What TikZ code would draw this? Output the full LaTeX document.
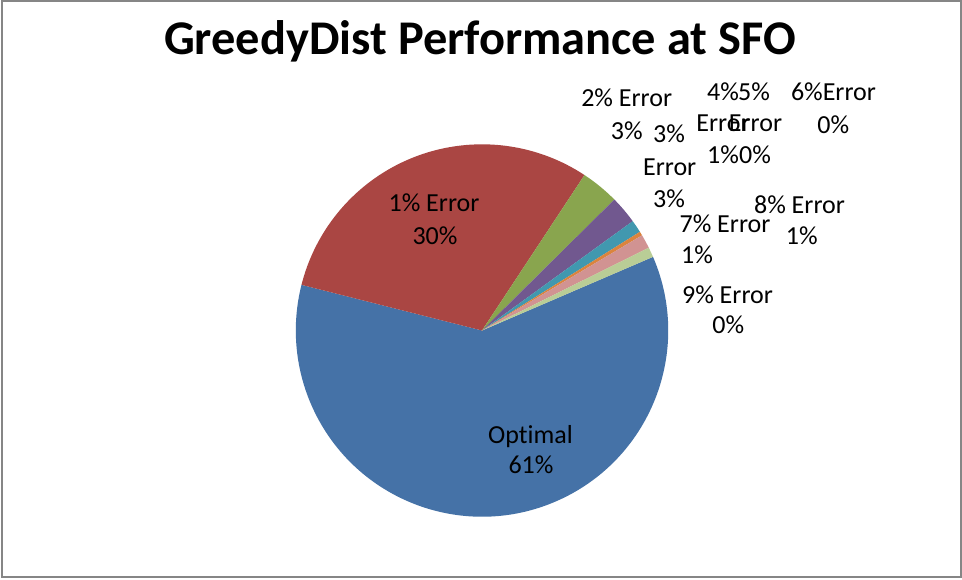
\documentclass[tikz,border=0pt]{standalone}
\usepackage{fontspec}
\setmainfont{Carlito}[Ligatures=NoCommon]
\begin{document}
\begin{tikzpicture}[x=1pt,y=1pt,
  lbl/.style={anchor=base,inner sep=0pt,font=\fontsize{26}{31}\selectfont},
  ttl/.style={anchor=base,inner sep=0pt,font=\fontsize{48.4}{58}\selectfont\bfseries}]
\definecolor{cOpt}{HTML}{4572A7}
\definecolor{cE1}{HTML}{AA4643}
\definecolor{cE2}{HTML}{89A54E}
\definecolor{cE3}{HTML}{71588F}
\definecolor{cE4}{HTML}{4198AF}
\definecolor{cE5}{HTML}{DB843D}
\definecolor{cE7}{HTML}{D19392}
\definecolor{cE8}{HTML}{B9CD96}
\definecolor{frame}{HTML}{868686}
\useasboundingbox (0,0) rectangle (962,-579);
\fill[white] (0,0) rectangle (962,-579);
\draw[frame,line width=2pt] (1.5,-1.2) rectangle (961,-577);

% pie slices, clockwise from the first one
\coordinate (c) at (482,-330.5);
\def\R{186.2}
\newcommand{\slice}[3]{\fill[#1] (c) -- ++(#2:\R) arc[start angle=#2,end angle=#3,radius=\R] -- cycle;}
\slice{cOpt}{23.3}{-194.2}
\slice{cE1}{165.8}{56.6}
\slice{cE2}{56.6}{44.7}
\slice{cE3}{44.7}{35.96}
\slice{cE4}{35.96}{32.0}
\slice{cE5}{32.0}{30.75}
\slice{cE7}{30.75}{26.4}
\slice{cE8}{26.4}{23.3}

% title
\node[ttl] (title) at (480,-54.3) {GreedyDist Performance at SFO};

% data labels
\node[lbl] (opt1) at (530.5,-443.3) {Optimal};
\node[lbl] (opt2) at (531,-473.3) {61\%};
\node[lbl] (e1a) at (434,-211.7) {1\% Error};
\node[lbl] (e1b) at (435,-244) {30\%};
\node[lbl] (e2a) at (626.7,-106.7) {2\% Error};
\node[lbl] (e2b) at (626.7,-139.3) {3\%};
\node[lbl] (e3a) at (669,-142.7) {3\%};
\node[lbl] (e3b) at (669.7,-175) {Error};
\node[lbl] (e3c) at (669,-207.7) {3\%};
\node[lbl] (e4a) at (723,-100) {4\%};
\node[lbl] (e4b) at (723,-131.7) {Error};
\node[lbl] (e4c) at (723,-163.3) {1\%};
\node[lbl] (e5a) at (754,-100) {5\%};
\node[lbl] (e5b) at (755.5,-131.7) {Error};
\node[lbl] (e5c) at (755,-163.3) {0\%};
\node[lbl] (e6a) at (833.5,-100.5) {6\%Error};
\node[lbl] (e6b) at (833.3,-133.3) {0\%};
\node[lbl] (e7a) at (725,-232.7) {7\% Error};
\node[lbl] (e7b) at (697,-263.3) {1\%};
\node[lbl] (e8a) at (799.5,-213.3) {8\% Error};
\node[lbl] (e8b) at (801.7,-244) {1\%};
\node[lbl] (e9a) at (727.5,-303.3) {9\% Error};
\node[lbl] (e9b) at (728.3,-333.3) {0\%};
\end{tikzpicture}
\end{document}
